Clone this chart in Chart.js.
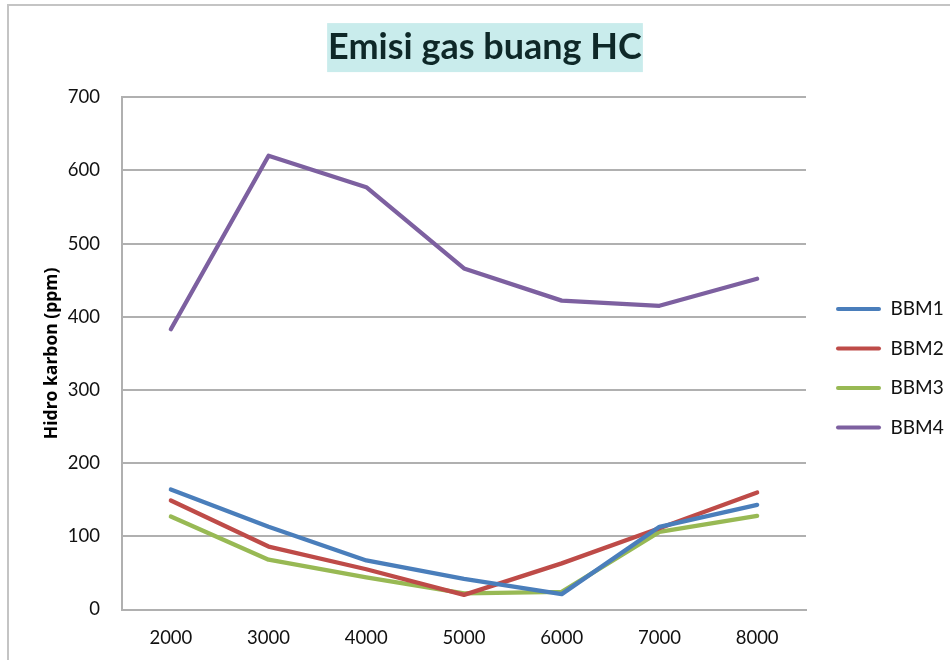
<!DOCTYPE html>
<html>
<head>
<meta charset="utf-8">
<script src="https://cdn.jsdelivr.net/npm/chart.js@4/dist/chart.umd.min.js"></script>
<style>
  html, body { margin: 0; padding: 0; background: #fff; overflow: hidden; }
  #wrap { position: relative; width: 950px; height: 660px; }
  #frame { position: absolute; left: 7px; top: 4px; width: 1000px; height: 700px;
           border-left: 2px solid #c4c4c4; border-top: 2px solid #c4c4c4; }
  canvas { position: absolute; left: 0; top: 0; }
</style>
</head>
<body>
<div id="wrap">
  <div id="frame"></div>
  <canvas id="hc" width="950" height="660"></canvas>
</div>
<script>
// data
const rpm  = ['2000', '3000', '4000', '5000', '6000', '7000', '8000'];
const bbm1 = [164, 113, 67, 42, 21, 113, 143];
const bbm2 = [149, 86, 55, 20, 63, 111, 160];
const bbm3 = [127, 68, 44, 22, 24, 106, 128];
const bbm4 = [383, 620, 577, 466, 422, 415, 452];
const seriesNames  = ['BBM1', 'BBM2', 'BBM3', 'BBM4'];
const seriesColors = ['#4a7ebb', '#be4b48', '#98b954', '#7d60a0'];

// layout
const PLOT_LEFT = 122, PLOT_RIGHT = 806;
const PAD_LEFT = -100;          // lets the y scale (and its title) be wide
const TITLE_CX = 485;
const LEG_X = 836, LEG_Y = 299.5, LEG_PAD = 20.5;
const FONT = 'Lato';

// title background + small position tweaks for title/legend
const excelBits = {
  id: 'excelBits',
  afterLayout(chart) {
    const tb = chart.titleBlock;
    const dx = TITLE_CX - (tb.left + tb.right) / 2;
    tb.left += dx; tb.right += dx;
    const lg = chart.legend;
    lg.left = LEG_X - LEG_PAD;
    lg.top = LEG_Y - LEG_PAD;
  },
  beforeDraw(chart) {
    const tb = chart.titleBlock, o = tb.options, ctx = chart.ctx;
    const size = o.font.size, lh = size * 1.2;
    ctx.save();
    ctx.font = 'bold ' + size + 'px ' + FONT;
    const w = ctx.measureText(o.text).width;
    const cx = (tb.left + tb.right) / 2;
    const cy = tb.top + tb._padding.top + lh / 2;
    ctx.fillStyle = '#c9ecec';
    ctx.fillRect(cx - w / 2 - 1, cy - 24.5, w + 2, 49);
    ctx.restore();
  }
};

const datasets = [bbm1, bbm2, bbm3, bbm4].map((vals, i) => ({
  label: seriesNames[i],
  data: vals,
  borderColor: seriesColors[i],
  backgroundColor: seriesColors[i],
  borderWidth: 4.3,
  pointRadius: 0,
  pointHoverRadius: 0,
  borderJoinStyle: 'round',
  borderCapStyle: 'round',
  tension: 0
}));

const chart = new Chart(document.getElementById('hc'), {
  type: 'line',
  data: { labels: rpm, datasets },
  plugins: [excelBits],
  options: {
    responsive: false,
    animation: false,
    layout: { padding: { left: PAD_LEFT, top: 0, right: 0, bottom: 0 } },
    plugins: {
      title: {
        display: true,
        text: 'Emisi gas buang HC',
        color: '#0e2828',
        font: { family: FONT, size: 36, weight: 'bold' },
        padding: { top: 26, bottom: 28 }
      },
      legend: {
        position: 'right',
        align: 'start',
        labels: {
          boxWidth: 45, boxHeight: 4, padding: LEG_PAD,
          color: '#111', font: { family: FONT, size: 19 },
          useBorderRadius: true, borderRadius: 2,
          generateLabels(c) {
            return Chart.defaults.plugins.legend.labels.generateLabels(c)
              .map(l => Object.assign(l, { lineWidth: 0, fillStyle: l.strokeStyle }));
          }
        }
      },
      tooltip: { enabled: false }
    },
    scales: {
      x: {
        offset: true,
        grid: { display: false, drawTicks: false },
        border: { display: true, color: '#b0b0b0', width: 2 },
        ticks: { color: '#111', font: { family: FONT, size: 18.5 }, padding: 17 },
        afterFit(s) { s.height = 50.5; }
      },
      y: {
        min: 0, max: 700,
        ticks: { stepSize: 100, color: '#111', font: { family: FONT, size: 18.5 }, padding: 22 },
        grid: { color: '#b0b0b0', lineWidth: 2, drawTicks: false },
        border: { display: true, color: '#b0b0b0', width: 2 },
        title: {
          display: true,
          text: 'Hidro karbon (ppm)',
          color: '#000',
          font: { family: 'Open Sans', size: 17.5, weight: 'bold' },
          padding: { top: 141.5, bottom: 0 }
        },
        afterFit(s) { s.width = PLOT_LEFT - PAD_LEFT; }
      }
    }
  }
});

// widen right padding so the plot ends where the reference plot ends
const extra = chart.chartArea.right - PLOT_RIGHT;
chart.options.layout.padding.right = Math.max(0, extra);
chart.update();
</script>
</body>
</html>
